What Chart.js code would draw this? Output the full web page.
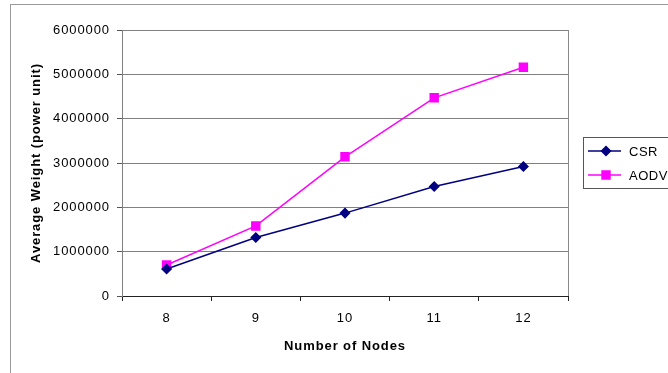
<!DOCTYPE html>
<html>
<head>
<meta charset="utf-8">
<script src="https://cdn.jsdelivr.net/npm/chart.js@4/dist/chart.umd.min.js"></script>
<style>
  html, body { margin: 0; padding: 0; background: #fff; }
  canvas { display: block; }
</style>
</head>
<body>
<canvas id="myChart" width="668" height="373"></canvas>
<script>
// data
const nodes = ['8', '9', '10', '11', '12'];
const csr = [610000, 1320000, 1870000, 2470000, 2920000];
const aodv = [700000, 1580000, 3140000, 4470000, 5160000];
const yTicks = [0, 1000000, 2000000, 3000000, 4000000, 5000000, 6000000];

const FONT = '"Liberation Sans", Arial, sans-serif';

// outer frame + plot border on the right
const framePlugin = {
  id: 'frame',
  beforeDraw(chart) {
    const ctx = chart.ctx;
    ctx.save();
    ctx.fillStyle = '#fff';
    ctx.fillRect(0, 0, chart.width, chart.height);
    ctx.strokeStyle = '#9a9a9a';
    ctx.lineWidth = 1;
    ctx.strokeRect(10.5, 4.5, 720, 420);
    ctx.restore();
    // the pdf text is a bit spread out
    ctx.letterSpacing = '0.9px';
  },
  afterDatasetsDraw(chart) {
    const a = chart.chartArea;
    const ctx = chart.ctx;
    ctx.save();
    ctx.strokeStyle = '#8a8a8a';
    ctx.lineWidth = 1;
    ctx.beginPath();
    ctx.moveTo(Math.round(a.right) + 0.5, a.top);
    ctx.lineTo(Math.round(a.right) + 0.5, a.bottom);
    ctx.stroke();
    ctx.restore();
  }
};

// legend drawn as an Excel style box
const boxLegend = {
  id: 'boxLegend',
  afterDraw(chart) {
    const ctx = chart.ctx;
    const x = 583, y = 137;
    ctx.save();
    ctx.letterSpacing = '0.5px';
    ctx.strokeStyle = '#555';
    ctx.lineWidth = 1;
    ctx.strokeRect(x + 0.5, y + 0.5, 110, 51);
    ctx.font = '13px ' + FONT;
    ctx.textBaseline = 'middle';
    chart.data.datasets.forEach((ds, i) => {
      const ly = y + 14 + i * 24;
      ctx.strokeStyle = ds.borderColor;
      ctx.lineWidth = ds.borderWidth;
      ctx.beginPath();
      ctx.moveTo(x + 5, ly);
      ctx.lineTo(x + 38, ly);
      ctx.stroke();
      ctx.fillStyle = ds.pointBackgroundColor;
      ctx.strokeStyle = ds.pointBorderColor;
      Chart.helpers.drawPoint(ctx, {
        pointStyle: ds.pointStyle, radius: ds.pointRadius, borderWidth: 1
      }, x + 23, ly);
      ctx.fillStyle = '#000';
      ctx.fillText(ds.label, x + 46, ly + 1);
    });
    ctx.restore();
  }
};

const data = {
  labels: nodes,
  datasets: [{
    label: 'CSR',
    data: csr,
    borderColor: '#000080',
    backgroundColor: '#000080',
    pointBackgroundColor: '#000080',
    pointBorderColor: '#000080',
    pointStyle: 'rectRot',
    pointRadius: 4.5,
    borderWidth: 1.5
  }, {
    label: 'AODV',
    data: aodv,
    borderColor: '#ff00ff',
    backgroundColor: '#ff00ff',
    pointBackgroundColor: '#ff00ff',
    pointBorderColor: '#ff00ff',
    pointStyle: 'rect',
    pointRadius: 5.6,
    borderWidth: 1.5
  }]
};

const config = {
  type: 'line',
  data: data,
  plugins: [framePlugin, boxLegend],
  options: {
    responsive: false,
    animation: false,
    layout: { padding: { left: 0, top: 30, right: 100, bottom: 0 } },
    plugins: { legend: { display: false }, tooltip: { enabled: false } },
    scales: {
      x: {
        offset: true,
        afterFit(s) { s.height = 77; },
        grid: { offset: true, drawOnChartArea: false, drawTicks: true, tickLength: 5, tickColor: '#222' },
        border: { color: '#222', width: 1 },
        ticks: { color: '#000', padding: 10, font: { family: FONT, size: 13 } },
        title: {
          display: true, text: 'Number of Nodes', color: '#000',
          font: { family: FONT, size: 13, weight: 'bold' },
          padding: { top: 0, bottom: 19 }
        }
      },
      y: {
        min: 0, max: 6000000,
        afterFit(s) { s.width = 122; },
        afterBuildTicks(s) { s.ticks = yTicks.map(v => ({ value: v })); },
        grid: { color: '#808080', tickLength: 5, tickColor: '#555' },
        border: { color: '#808080', width: 1 },
        ticks: {
          color: '#000', padding: 7, font: { family: FONT, size: 13 },
          callback: v => String(v)
        },
        title: {
          display: true, text: 'Average Weight (power unit)', color: '#000',
          font: { family: FONT, size: 13, weight: 'bold' },
          padding: { top: 29, bottom: 0 }
        }
      }
    }
  }
};

const myChart = new Chart(document.getElementById('myChart'), config);
</script>
</body>
</html>
